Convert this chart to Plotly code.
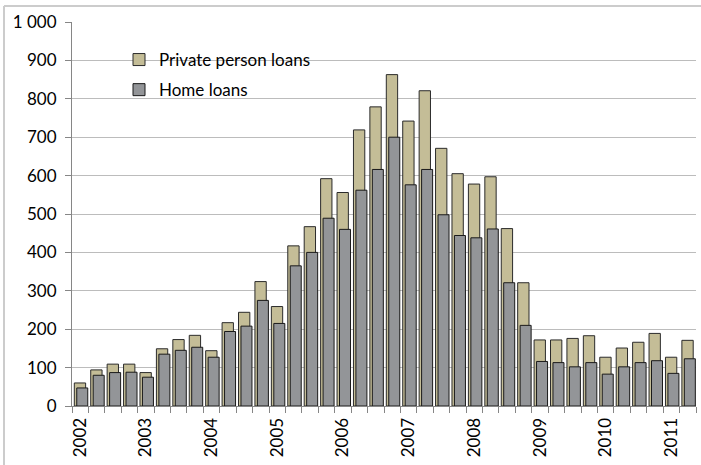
import plotly.graph_objects as go

quarters = [f"{y} Q{q}" for y in range(2002, 2012) for q in range(1, 5)][:38]
private_person_loans = [60, 94, 109, 109, 87, 149, 173, 184, 144, 217, 244, 324,
                        259, 417, 467, 592, 556, 719, 779, 863, 742, 821, 671, 605,
                        578, 597, 462, 321, 172, 172, 176, 183, 127, 151, 166, 189,
                        127, 171]
home_loans = [47, 80, 87, 88, 75, 135, 145, 153, 127, 194, 208, 275,
              215, 365, 400, 489, 460, 562, 616, 700, 576, 616, 498, 444,
              438, 461, 321, 210, 116, 113, 102, 113, 83, 102, 113, 118,
              85, 123]
year_labels = [str(y) for y in range(2002, 2012)]
y_ticks = list(range(0, 1001, 100))
y_tick_text = ["1 000" if v == 1000 else str(v) for v in y_ticks]

x = list(range(len(quarters)))
font = "Lato, Carlito, Calibri, sans-serif"

fig = go.Figure()
fig.add_trace(go.Bar(
    x=x, y=private_person_loans, name="Private person loans",
    offset=-0.36, width=0.69, legendgroup="a",
    marker=dict(color="#c4bd97", line=dict(color="#2b2b2b", width=1)),
    hovertext=quarters,
))
fig.add_trace(go.Bar(
    x=x, y=home_loans, name="Home loans",
    offset=-0.21, width=0.67, legendgroup="b",
    marker=dict(color="#939598", line=dict(color="#1a1a1a", width=1)),
    hovertext=quarters,
))

L, R, T, B = 72, 5, 22, 59
W, H = 701, 465
pw, ph = W - L - R, H - T - B

def px_x(px):
    return (px - L) / pw

def px_y(py):
    return 1 - (py - T) / ph

fig.update_layout(
    width=W, height=H,
    margin=dict(l=L, r=R, t=T, b=B),
    barmode="overlay",
    paper_bgcolor="white", plot_bgcolor="white",
    font=dict(family=font, size=17, color="#000000"),
    showlegend=True,
    legend=dict(x=px_x(119), y=px_y(42), xanchor="left", yanchor="top",
                traceorder="grouped", tracegroupgap=5,
                bgcolor="rgba(0,0,0,0)", font=dict(size=17, family=font),
                itemwidth=30),
    xaxis=dict(range=[-0.5, len(quarters) - 0.5],
               tickvals=list(range(0, len(quarters), 4)), ticktext=year_labels,
               tickangle=-90, ticks="", showgrid=False, zeroline=False,
               showline=True, linecolor="#868686", linewidth=1,
               ticklabelstandoff=4,
               minor=dict(tick0=0.5, dtick=1, ticks="outside", ticklen=6,
                          tickcolor="#868686", showgrid=False),
               tickfont=dict(size=17, family=font)),
    yaxis=dict(range=[0, 1000], tickvals=y_ticks, ticktext=y_tick_text,
               showgrid=True, gridcolor="#bcbcbc", gridwidth=1,
               zeroline=False, showline=True, linecolor="#868686", linewidth=1,
               ticks="outside", ticklen=6, tickcolor="#868686",
               ticklabelstandoff=5,
               tickfont=dict(size=17, family=font)),
    shapes=[
        dict(type="line", xref="paper", yref="paper",
             x0=px_x(4), x1=px_x(W), y0=px_y(6), y1=px_y(6),
             line=dict(color="#cccccc", width=2), layer="below"),
        dict(type="line", xref="paper", yref="paper",
             x0=px_x(4), x1=px_x(4), y0=px_y(6), y1=px_y(H),
             line=dict(color="#cccccc", width=2), layer="below"),
    ],
)

fig.write_html("out.html")
